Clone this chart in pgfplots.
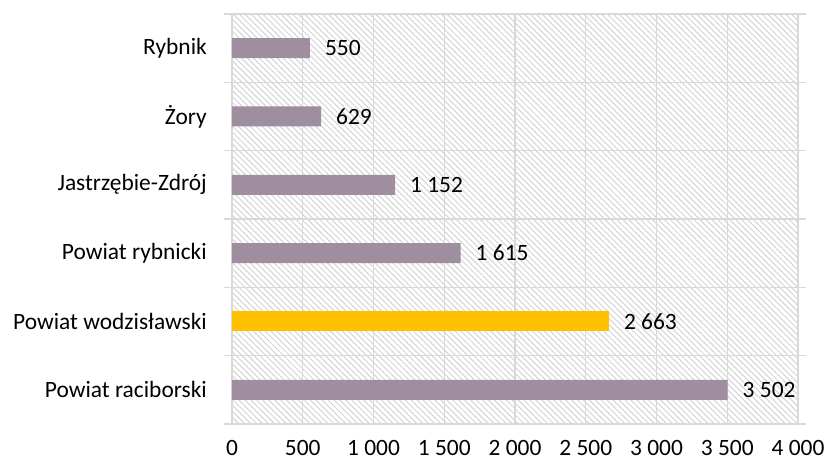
\documentclass[border=0pt]{standalone}
\usepackage{pgfplots}
\pgfplotsset{compat=1.18}
\usepackage{fontspec}
\setmainfont{Carlito}
\usetikzlibrary{patterns.meta}
\definecolor{barg}{RGB}{158,142,160}
\definecolor{bary}{RGB}{255,192,0}
\definecolor{gridc}{RGB}{217,217,217}
\definecolor{hatch}{RGB}{212,212,212}
\pgfplotsset{/pgf/number format/.cd, 1000 sep={\ }, assume math mode=true}
\begin{document}
\begin{tikzpicture}
\begin{axis}[
  at={(0,0)}, anchor=south west,
  scale only axis, width=566bp, height=410bp,
  xmin=0, xmax=4000, ymin=-0.5, ymax=5.5,
  xtick={0,500,...,4000},
  ytick={0,1,2,3,4,5},
  yticklabels={Powiat raciborski, Powiat wodzisławski, Powiat rybnicki, Jastrzębie-Zdrój, Żory, Rybnik},
  minor ytick={-0.5,0.5,1.5,2.5,3.5,4.5,5.5},
  xmajorgrids=true, yminorgrids=true,
  major grid style={draw=gridc, line width=1.3bp},
  minor grid style={draw=gridc, line width=1.3bp},
  major tick length=0pt, minor tick length=8bp, tick align=outside,
  minor tick style={draw=gridc, line width=1.3bp},
  axis line style={draw=gridc, line width=1.3bp},
  axis background/.style={pattern={Lines[angle=-45,distance=4.2bp,line width=1bp]}, pattern color=hatch},
  tick label style={font=\fontsize{23.5}{28}\selectfont, text=black},
  yticklabel style={inner sep=0pt, xshift=-25bp},
  xticklabel style={inner sep=0pt, yshift=-16bp},
  xbar, bar width=20bp,
  nodes near coords,
  nodes near coords style={anchor=west, inner sep=0pt, xshift=15bp, font=\fontsize{23.5}{28}\selectfont, text=black},
]
\addplot[fill=barg, draw=none, bar shift=0pt] coordinates {(3502,0) (1615,2) (1152,3) (629,4) (550,5)};
\addplot[fill=bary, draw=none, bar shift=0pt] coordinates {(2663,1)};
\end{axis}
\path (current axis.south west) ++(-232bp,-40bp) rectangle ([xshift=27bp,yshift=14bp]current axis.north east);
\end{tikzpicture}
\end{document}
